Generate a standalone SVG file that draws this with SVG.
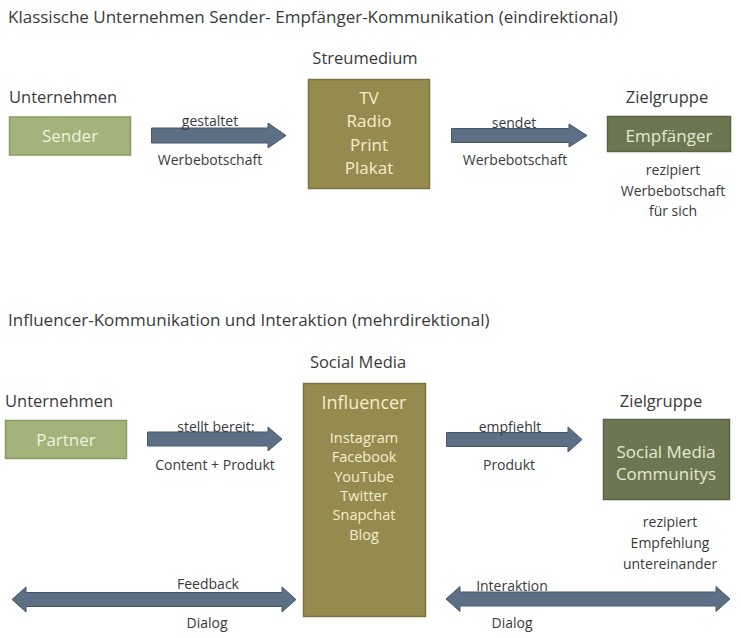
<svg xmlns="http://www.w3.org/2000/svg" width="741" height="638" viewBox="0 0 741 638">
<style>
text{font-family:"Open Sans","DejaVu Sans",sans-serif;fill:#3a3a3a}
.t{font-size:17px}
.h{font-size:16.5px}
.l{font-size:14px;text-anchor:middle}
.c{text-anchor:middle}
.g1{fill:#a2b47a;stroke:#8a9c62;stroke-width:1.5}
.g2{fill:#968b4f;stroke:#7c7340;stroke-width:1.5}
.g3{fill:#6c7752;stroke:#5a6443;stroke-width:1.5}
.w1{fill:#eef2df;font-size:17px;text-anchor:middle}
.w2{fill:#f3eecc;text-anchor:middle}
.w3{fill:#e3e9d0;font-size:17px;text-anchor:middle}
.ar{fill:#5c6f85;stroke:#47586b;stroke-width:1}
</style>
<rect width="741" height="638" fill="#ffffff"/>
<text class="t" x="8" y="23">Klassische Unternehmen Sender- Empfänger-Kommunikation (eindirektional)</text>
<text class="t" x="8" y="326">Influencer-Kommunikation und Interaktion (mehrdirektional)</text>

<g id="sender">
<text class="h" x="9" y="103">Unternehmen</text>
<rect class="g1" x="9.5" y="117" width="121" height="38"/>
<text class="w1" x="70" y="142">Sender</text>
</g>
<g id="streumedium">
<text class="h c" x="365" y="64">Streumedium</text>
<rect class="g2" x="308.5" y="79.5" width="121" height="109"/>
<text class="w2" x="369" y="104" font-size="17">TV</text>
<text class="w2" x="369" y="127" font-size="17">Radio</text>
<text class="w2" x="369" y="151" font-size="17">Print</text>
<text class="w2" x="369" y="174" font-size="17">Plakat</text>
</g>
<g id="empfaenger">
<text class="h c" x="667" y="103">Zielgruppe</text>
<rect class="g3" x="607.5" y="116.5" width="123" height="35"/>
<text class="w3" x="669" y="142">Empfänger</text>
<text class="l" x="673" y="175">rezipiert</text>
<text class="l" x="673" y="196">Werbebotschaft</text>
<text class="l" x="673" y="216">für sich</text>
</g>

<g id="partner">
<text class="h" x="5" y="407">Unternehmen</text>
<rect class="g1" x="5.5" y="420.5" width="121" height="38"/>
<text class="w1" x="66" y="446">Partner</text>
</g>
<g id="influencer">
<text class="h c" x="358" y="368">Social Media</text>
<rect class="g2" x="303.5" y="383.5" width="122" height="233"/>
<text class="w2" x="364" y="409" font-size="18">Influencer</text>
<text class="w2" x="364" y="443" font-size="14.5">Instagram</text>
<text class="w2" x="364" y="462" font-size="14.5">Facebook</text>
<text class="w2" x="364" y="482" font-size="14.5">YouTube</text>
<text class="w2" x="364" y="501" font-size="14.5">Twitter</text>
<text class="w2" x="364" y="520" font-size="14.5">Snapchat</text>
<text class="w2" x="364" y="540" font-size="14.5">Blog</text>
</g>
<g id="communitys">
<text class="h c" x="661" y="407">Zielgruppe</text>
<rect class="g3" x="603.5" y="419.5" width="126" height="80"/>
<text class="w3" x="666" y="458">Social Media</text>
<text class="w3" x="666" y="480">Communitys</text>
<text class="l" x="670" y="527">rezipiert</text>
<text class="l" x="670" y="548">Empfehlung</text>
<text class="l" x="670" y="569">untereinander</text>
</g>

<g id="connectors">
<path class="ar" d="M151.5,128 H268 V123 L286,135.5 L268,148 V143 H151.5 Z"/>
<text class="l" x="210" y="126">gestaltet</text>
<text class="l" x="210" y="165">Werbebotschaft</text>
<path class="ar" d="M451.5,128.5 H569 V124 L587,135.5 L569,147 V142.5 H451.5 Z"/>
<text class="l" x="514" y="128">sendet</text>
<text class="l" x="515" y="165">Werbebotschaft</text>

<path class="ar" d="M147.5,432 H268 V427 L282,439 L268,451 V446 H147.5 Z"/>
<text class="l" x="216" y="432">stellt bereit:</text>
<text class="l" x="215" y="470">Content + Produkt</text>
<path class="ar" d="M446.5,432.5 H568 V427 L582,439.5 L568,452 V446.5 H446.5 Z"/>
<text class="l" x="510" y="432">empfiehlt</text>
<text class="l" x="509" y="470">Produkt</text>

<path class="ar" d="M12,599.5 L26,587 V592.5 H282 V587 L296,599.5 L282,612 V606.5 H26 V612 Z"/>
<text class="l" x="208" y="589">Feedback</text>
<text class="l" x="207" y="628">Dialog</text>
<path class="ar" d="M446,599 L460,586.5 V592 H716 V586.5 L730,599 L716,611.5 V606 H460 V611.5 Z"/>
<text class="l" x="512" y="591">Interaktion</text>
<text class="l" x="512" y="628">Dialog</text>
</g>
</svg>
